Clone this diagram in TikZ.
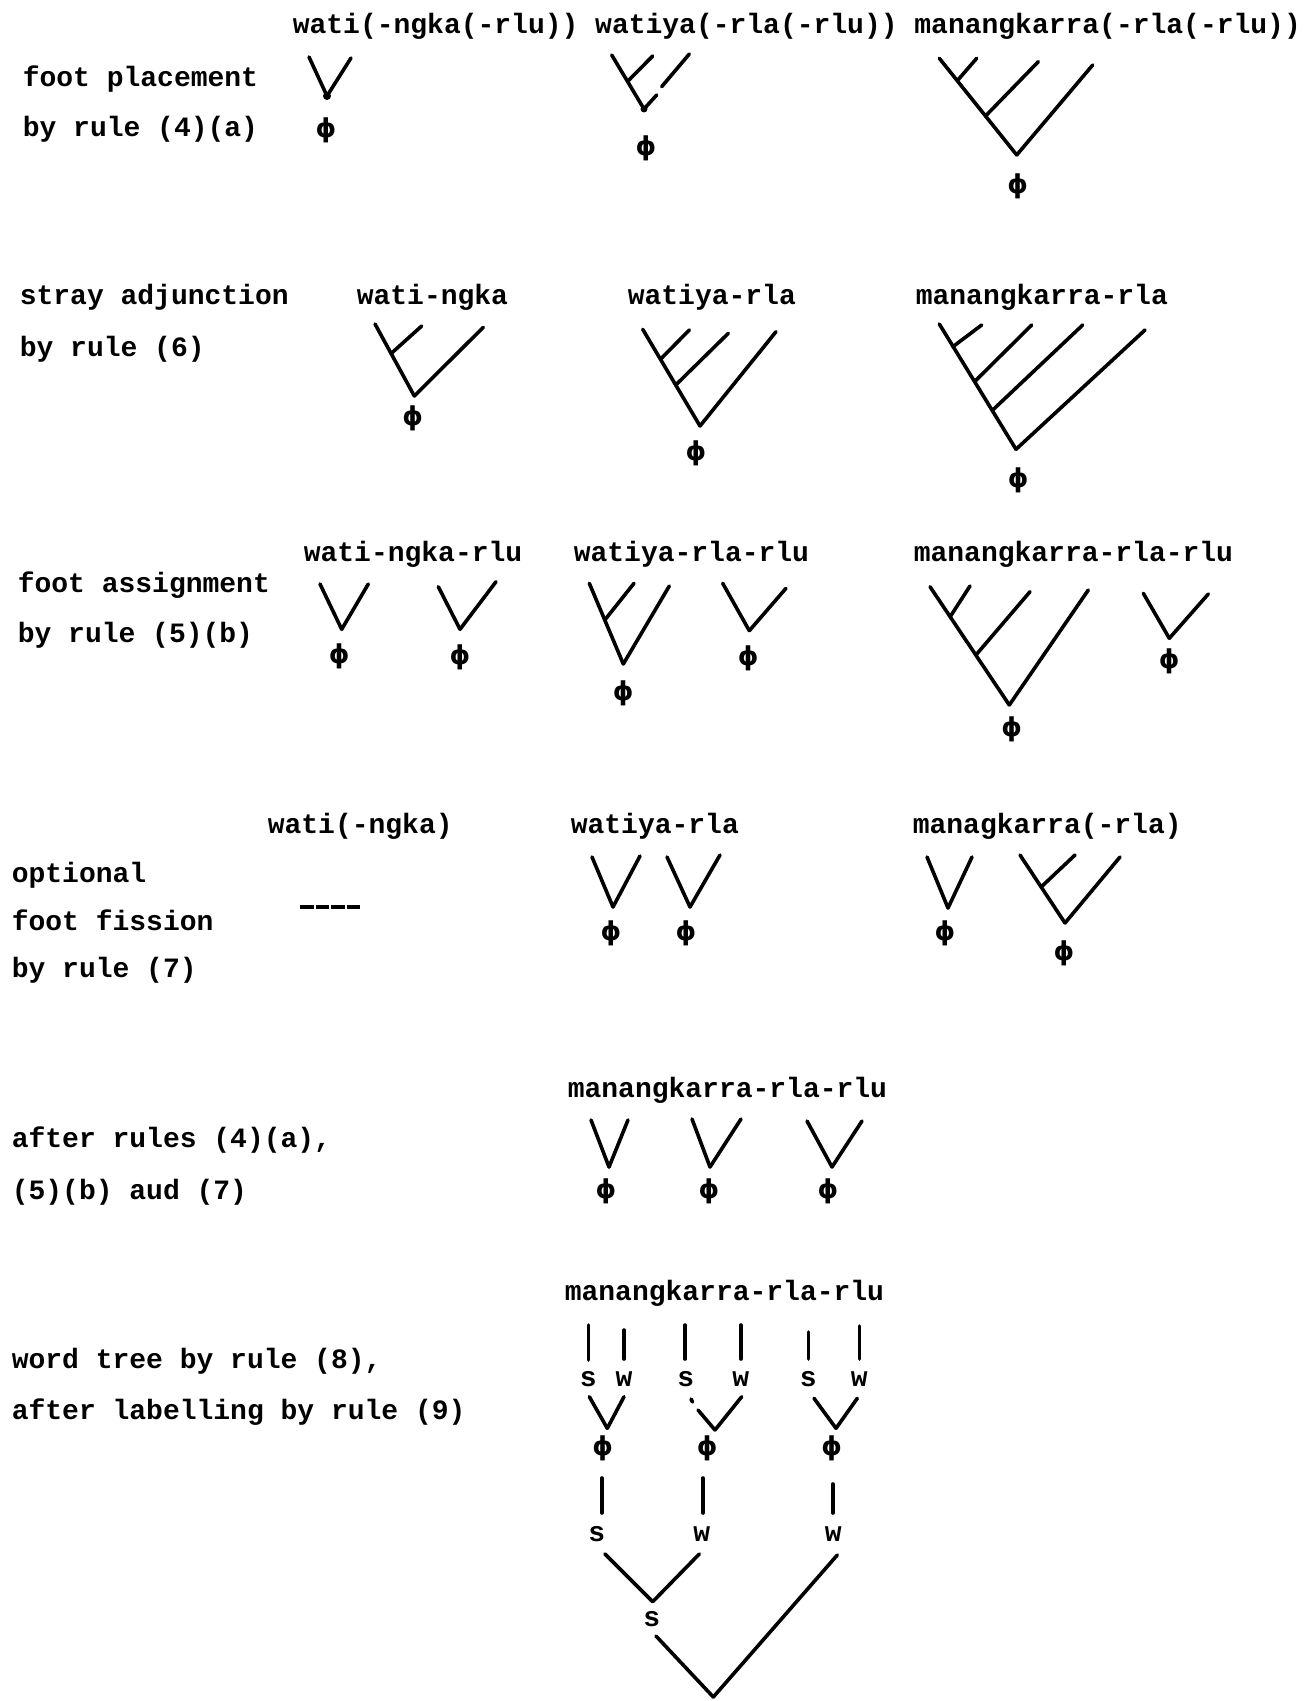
\documentclass[tikz,border=0pt]{standalone}
\usepackage{fontspec}
\setmonofont{Liberation Mono}
\newfontfamily\phfont{DejaVu Sans}
\usetikzlibrary{calc}
\newcommand{\tw}{\fontsize{14}{16}\selectfont\ttfamily\bfseries}
\tikzset{
  txt/.style={inner sep=0pt, anchor=base west, font=\tw},
  sw/.style={inner sep=0pt, font=\tw},
  ft/.style={inner sep=0pt, font=\phfont\bfseries\fontsize{13}{14}\selectfont},
  br/.style={line width=1.8pt, line cap=round, line join=round}
}

\begin{document}
\begin{tikzpicture}[x=0.5pt, y=-0.5pt, br]
\useasboundingbox (0,0) rectangle (1305,1701);

% foot placement
\node[txt] (lpl1) at (21,87) {foot placement};
\node[txt] (lpl2) at (21,136.5) {by rule (4)(a)};
\node[txt] (hwa) at (291,33.5) {wati(-ngka(-rlu))};
\node[txt] (hwy) at (593.4,33.5) {watiya(-rla(-rlu))};
\node[txt] (hma) at (912.6,33.5) {manangkarra(-rla(-rlu))};
\coordinate (a1l) at (309,57);
\coordinate (a1r) at (351,58);
\coordinate (a1b) at (327,96);
\node[ft] (pa1) at (326,130) {ϕ};
\draw (a1l) edge (a1b) (a1r) edge (a1b);
\fill (a1b) circle (4);
\coordinate (b1l) at (611.7,55);
\coordinate (b1b) at (644,109);
\coordinate (b1j) at ($(b1l)!0.49!(b1b)$);
\coordinate (b1t) at (652.7,56);
\coordinate (b1r) at (689.3,54);
\coordinate (b1g) at (661.7,86.7);
\coordinate (b1h) at (656.7,95);
\node[ft] (pb1) at (646,148) {ϕ};
\draw (b1l) edge (b1b) (b1j) edge (b1t) (b1r) edge (b1g) (b1h) edge (b1b);
\fill (b1b) circle (3.5);
\coordinate (c1l) at (939.3,58.3);
\coordinate (c1b) at (1016.7,155);
\coordinate (c1r) at (1092.7,65);
\coordinate (c1j1) at ($(c1l)!0.232!(c1b)$);
\coordinate (c1j2) at ($(c1l)!0.597!(c1b)$);
\coordinate (c1t1) at (976.7,58.3);
\coordinate (c1t2) at (1038.3,61.7);
\node[ft] (pc1) at (1017.7,186.7) {ϕ};
\draw (c1l) edge (c1b) (c1r) edge (c1b) (c1j1) edge (c1t1) (c1j2) edge (c1t2);

% stray adjunction
\node[txt] (lsa1) at (18,305) {stray adjunction};
\node[txt] (lsa2) at (18,356.7) {by rule (6)};
\node[txt] (hwa2) at (355,305) {wati-ngka};
\node[txt] (hwy2) at (626,305) {watiya-rla};
\node[txt] (hma2) at (914,305) {manangkarra-rla};
\coordinate (a2l) at (375,324);
\coordinate (a2b) at (414.3,396);
\coordinate (a2r) at (483.3,327.3);
\coordinate (a2j) at ($(a2l)!0.41!(a2b)$);
\coordinate (a2t) at (421.7,326);
\node[ft] (pa2) at (412.7,418.3) {ϕ};
\draw (a2l) edge (a2b) (a2r) edge (a2b) (a2j) edge (a2t);
\coordinate (b2l) at (642.7,329.3);
\coordinate (b2b) at (700,426);
\coordinate (b2r) at (776,331.7);
\coordinate (b2j1) at ($(b2l)!0.31!(b2b)$);
\coordinate (b2j2) at ($(b2l)!0.576!(b2b)$);
\coordinate (b2t1) at (689.3,330);
\coordinate (b2t2) at (728.3,333.3);
\node[ft] (pb2) at (696,453.3) {ϕ};
\draw (b2l) edge (b2b) (b2r) edge (b2b) (b2j1) edge (b2t1) (b2j2) edge (b2t2);
\coordinate (c2l) at (939.3,324);
\coordinate (c2b) at (1016,449.3);
\coordinate (c2r) at (1145,330);
\coordinate (c2j1) at ($(c2l)!0.18!(c2b)$);
\coordinate (c2j2) at ($(c2l)!0.46!(c2b)$);
\coordinate (c2j3) at ($(c2l)!0.69!(c2b)$);
\coordinate (c2t1) at (981.7,325);
\coordinate (c2t2) at (1031.7,325);
\coordinate (c2t3) at (1082.7,325);
\node[ft] (pc2) at (1018.3,480) {ϕ};
\draw (c2l) edge (c2b) (c2r) edge (c2b) (c2j1) edge (c2t1) (c2j2) edge (c2t2) (c2j3) edge (c2t3);

% foot assignment
\node[txt] (lfa1) at (16,592) {foot assignment};
\node[txt] (lfa2) at (16,642) {by rule (5)(b)};
\node[txt] (hwa3) at (302,561) {wati-ngka-rlu};
\node[txt] (hwy3) at (572,561) {watiya-rla-rlu};
\node[txt] (hma3) at (912,561) {manangkarra-rla-rlu};
\coordinate (a3l) at (320,584);
\coordinate (a3b) at (341.7,629.3);
\coordinate (a3r) at (368.3,584);
\node[ft] (pa3) at (339.3,656) {ϕ};
\coordinate (b3l) at (438.3,586.7);
\coordinate (b3b) at (460,629.3);
\coordinate (b3r) at (496,581.7);
\node[ft] (pb3) at (460,657.3) {ϕ};
\draw (a3l) edge (a3b) (a3r) edge (a3b) (b3l) edge (b3b) (b3r) edge (b3b);
\coordinate (c3l) at (589.3,583.3);
\coordinate (c3b) at (623.3,664);
\coordinate (c3r) at (669.3,586);
\coordinate (c3j) at ($(c3l)!0.455!(c3b)$);
\coordinate (c3t) at (634,583.3);
\node[ft] (pc3) at (623.3,693.3) {ϕ};
\coordinate (d3l) at (722.7,583.3);
\coordinate (d3b) at (749.3,630.7);
\coordinate (d3r) at (786,588.3);
\node[ft] (pd3) at (748.3,658.3) {ϕ};
\draw (c3l) edge (c3b) (c3r) edge (c3b) (c3j) edge (c3t) (d3l) edge (d3b) (d3r) edge (d3b);
\coordinate (e3l) at (930,586.7);
\coordinate (e3b) at (1009.3,705);
\coordinate (e3r) at (1088.3,590);
\coordinate (e3j1) at ($(e3l)!0.254!(e3b)$);
\coordinate (e3j2) at ($(e3l)!0.578!(e3b)$);
\coordinate (e3t1) at (970,586);
\coordinate (e3t2) at (1030,591.7);
\node[ft] (pe3) at (1011.7,729.3) {ϕ};
\coordinate (f3l) at (1143.3,593.3);
\coordinate (f3b) at (1169.3,638.3);
\coordinate (f3r) at (1208.3,594);
\node[ft] (pf3) at (1169.3,661.7) {ϕ};
\draw (e3l) edge (e3b) (e3r) edge (e3b) (e3j1) edge (e3t1) (e3j2) edge (e3t2) (f3l) edge (f3b) (f3r) edge (f3b);

% optional foot fission
\node[txt] (lof1) at (10,882) {optional};
\node[txt] (lof2) at (10,930) {foot fission};
\node[txt] (lof3) at (10,977) {by rule (7)};
\node[txt] (hwa4) at (266,833) {wati(-ngka)};
\node[txt] (hwy4) at (569,833) {watiya-rla};
\node[txt] (hma4) at (911,833) {managkarra(-rla)};
\draw[dash pattern=on 6.8pt off 1pt, line cap=butt] (300,907) -- (362,907);
\coordinate (a4l) at (592,857);
\coordinate (a4b) at (613,907);
\coordinate (a4r) at (640,856);
\node[ft] (pa4) at (611,933) {ϕ};
\coordinate (b4l) at (667,857);
\coordinate (b4b) at (690,907);
\coordinate (b4r) at (720,855);
\node[ft] (pb4) at (686,933) {ϕ};
\draw (a4l) edge (a4b) (a4r) edge (a4b) (b4l) edge (b4b) (b4r) edge (b4b);
\coordinate (c4l) at (927,857);
\coordinate (c4b) at (948,908);
\coordinate (c4r) at (972,857);
\node[ft] (pc4) at (945,933) {ϕ};
\coordinate (d4l) at (1020,855);
\coordinate (d4b) at (1065,923);
\coordinate (d4r) at (1120,857);
\coordinate (d4j) at ($(d4l)!0.47!(d4b)$);
\coordinate (d4t) at (1075,855);
\node[ft] (pd4) at (1064,953) {ϕ};
\draw (c4l) edge (c4b) (c4r) edge (c4b) (d4l) edge (d4b) (d4r) edge (d4b) (d4j) edge (d4t);

% after rules
\node[txt] (lar1) at (10,1147) {after rules (4)(a),};
\node[txt] (lar2) at (10,1199) {(5)(b) aud (7)};
\node[txt] (hma5) at (566,1097) {manangkarra-rla-rlu};
\coordinate (a5l) at (591,1120);
\coordinate (a5b) at (609,1167);
\coordinate (a5r) at (628,1120);
\node[ft] (pa5) at (606,1191) {ϕ};
\coordinate (b5l) at (692,1119);
\coordinate (b5b) at (710,1167);
\coordinate (b5r) at (741,1119);
\node[ft] (pb5) at (709,1191) {ϕ};
\coordinate (c5l) at (807,1121);
\coordinate (c5b) at (832,1167);
\coordinate (c5r) at (862,1121);
\node[ft] (pc5) at (828,1191) {ϕ};
\draw (a5l) edge (a5b) (a5r) edge (a5b) (b5l) edge (b5b) (b5r) edge (b5b) (c5l) edge (c5b) (c5r) edge (c5b);

% word tree
\node[txt] (lwt1) at (10,1368) {word tree by rule (8),};
\node[txt] (lwt2) at (10,1419) {after labelling by rule (9)};
\node[txt] (hma6) at (563,1300.7) {manangkarra-rla-rlu};
\node[sw] (s1) at (588.3,1379) {s};
\node[sw] (w1) at (624,1379) {w};
\node[sw] (s2) at (685.7,1379) {s};
\node[sw] (w2) at (740.7,1379) {w};
\node[sw] (s3) at (808.3,1379) {s};
\node[sw] (w3) at (859.3,1379) {w};
\coordinate (k1) at (588.3,1325);
\coordinate (k1e) at (588.3,1360);
\coordinate (k2) at (624,1330);
\coordinate (k2e) at (624,1359);
\coordinate (k3) at (685,1325);
\coordinate (k3e) at (685,1359);
\coordinate (k4) at (740.7,1325);
\coordinate (k4e) at (740.7,1359);
\coordinate (k5) at (808.3,1332);
\coordinate (k5e) at (808.3,1359);
\coordinate (k6) at (859.3,1326);
\coordinate (k6e) at (859.3,1359);
\draw (k1) edge (k1e) (k2) edge (k2e) (k3) edge (k3e)
      (k4) edge (k4e) (k5) edge (k5e) (k6) edge (k6e);
\coordinate (v1l) at (589.3,1396.7);
\coordinate (v1r) at (624,1396.7);
\coordinate (v1b) at (607.3,1428.3);
\coordinate (v2k) at (691,1399);
\coordinate (v2m) at (692.5,1402);
\coordinate (v2g) at (698,1410);
\coordinate (v2r) at (741.7,1396.7);
\coordinate (v2b) at (715,1430);
\coordinate (v3l) at (814,1398.3);
\coordinate (v3r) at (857.3,1398.3);
\coordinate (v3b) at (836,1428.3);
\draw (v1l) edge (v1b) (v1r) edge (v1b)
      (v2k) edge (v2m) (v2g) edge (v2b) (v2r) edge (v2b)
      (v3l) edge (v3b) (v3r) edge (v3b);
\node[ft] (f1) at (602.7,1448.3) {ϕ};
\node[ft] (f2) at (707.3,1448.3) {ϕ};
\node[ft] (f3) at (831.7,1448.3) {ϕ};
\node[sw] (s4) at (596.7,1534) {s};
\node[sw] (w4) at (701.7,1534) {w};
\node[sw] (w5) at (833.3,1534) {w};
\coordinate (u1) at (601.7,1478);
\coordinate (u1e) at (601.7,1513);
\coordinate (u2) at (702.7,1478);
\coordinate (u2e) at (702.7,1513);
\coordinate (u3) at (832.7,1484);
\coordinate (u3e) at (832.7,1513);
\draw (u1) edge (u1e) (u2) edge (u2e) (u3) edge (u3e);
\node[sw] (s5) at (651.7,1619.3) {s};
\coordinate (v4l) at (605,1554);
\coordinate (v4r) at (699.3,1554);
\coordinate (v4b) at (652.7,1601.7);
\coordinate (v5l) at (656,1636);
\coordinate (v5r) at (837.3,1555);
\coordinate (v5b) at (713.3,1697);
\draw (v4l) edge (v4b) (v4r) edge (v4b) (v5l) edge (v5b) (v5r) edge (v5b);
\end{tikzpicture}
\end{document}
